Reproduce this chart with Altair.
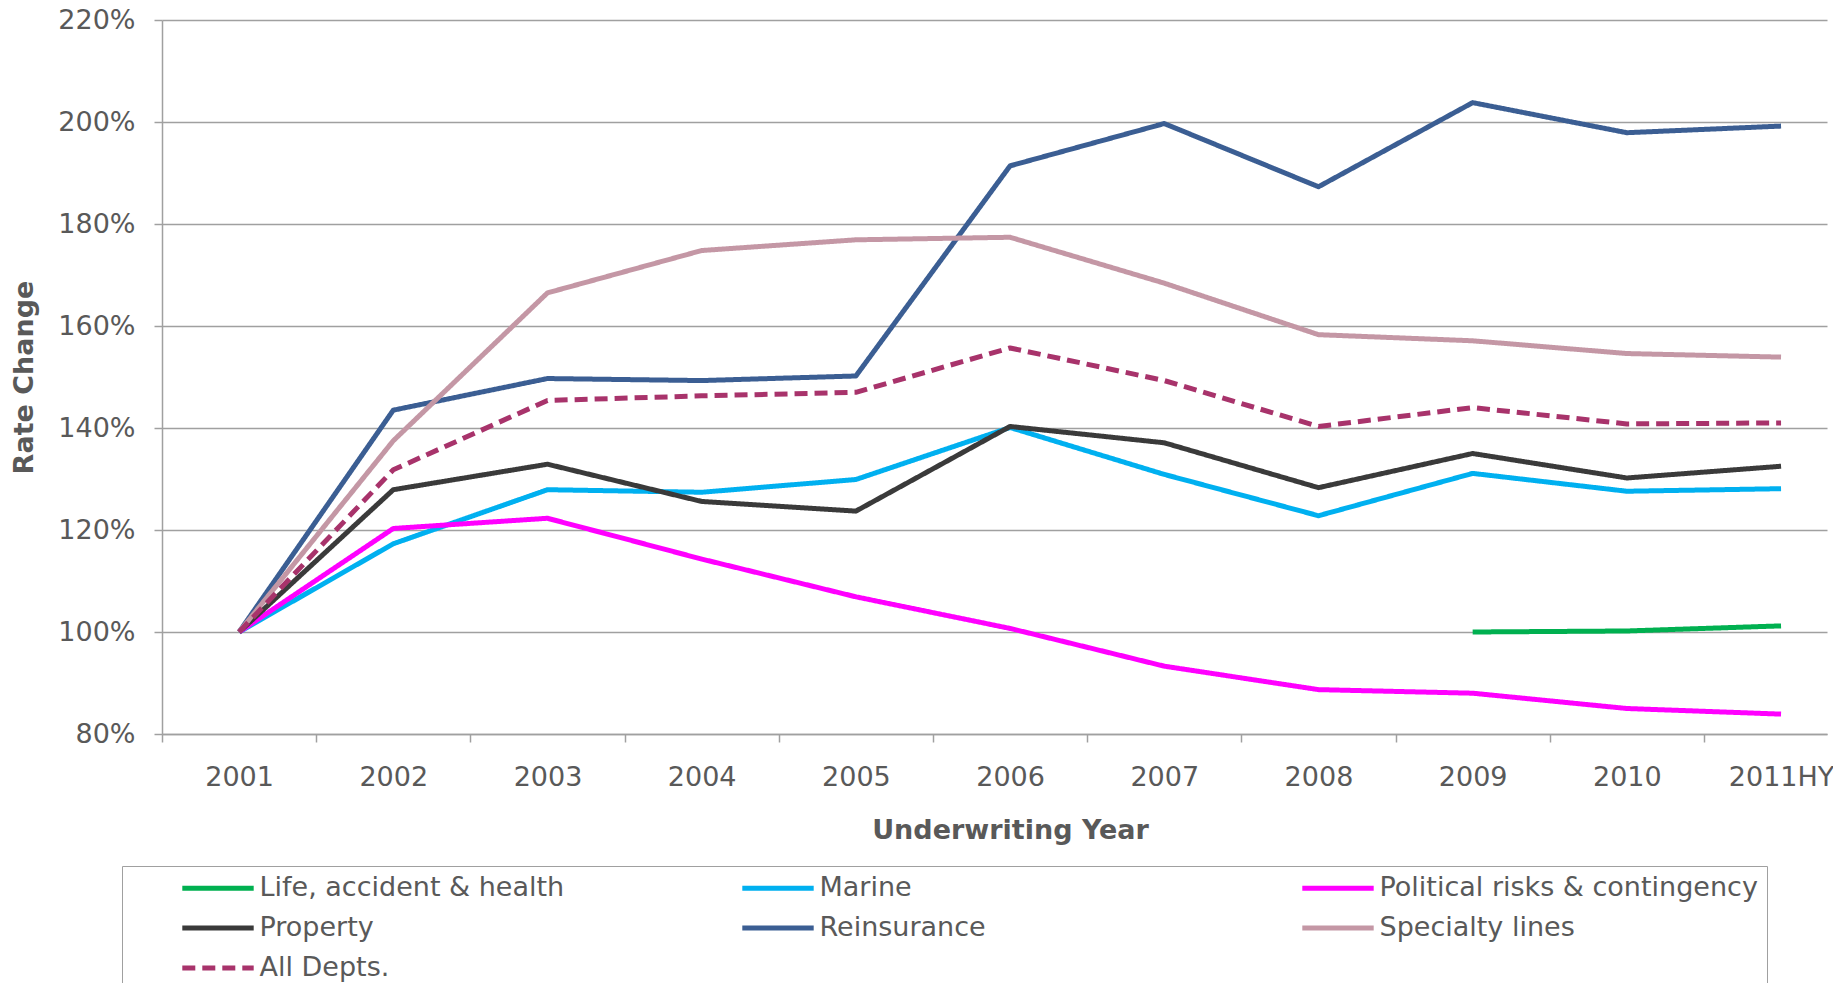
import altair as alt
import pandas as pd

years = ["2001", "2002", "2003", "2004", "2005", "2006", "2007", "2008", "2009", "2010", "2011HY"]

series_names = [
    "Life, accident & health",
    "Marine",
    "Political risks & contingency",
    "Property",
    "Reinsurance",
    "Specialty lines",
    "All Depts.",
]

life = [None, None, None, None, None, None, None, None, 100.0, 100.2, 101.2]
marine = [100.0, 117.3, 127.9, 127.4, 129.9, 140.1, 130.9, 122.8, 131.1, 127.6, 128.1]
political = [100.0, 120.3, 122.3, 114.3, 106.9, 100.7, 93.3, 88.7, 88.0, 85.0, 83.9]
property_ = [100.0, 127.9, 132.9, 125.6, 123.7, 140.3, 137.1, 128.3, 135.0, 130.2, 132.5]
reinsurance = [100.0, 143.5, 149.7, 149.3, 150.2, 191.4, 199.7, 187.3, 203.8, 197.9, 199.2]
specialty = [100.0, 137.5, 166.5, 174.8, 176.9, 177.4, 168.4, 158.3, 157.1, 154.6, 153.9]
all_depts = [100.0, 131.8, 145.4, 146.3, 147.0, 155.7, 149.3, 140.3, 144.0, 140.8, 141.0]

y_ticks = [80, 100, 120, 140, 160, 180, 200, 220]

colors = ["#00B050", "#00B0F0", "#FF00FF", "#3A3A3A", "#3B5E93", "#C497A5", "#A8336B"]
dashes = [[1, 0], [1, 0], [1, 0], [1, 0], [1, 0], [1, 0], [13, 7]]

rows = []
for name, vals in zip(series_names,
                      [life, marine, political, property_, reinsurance, specialty, all_depts]):
    for i, (yr, v) in enumerate(zip(years, vals)):
        if v is not None:
            rows.append({"series": name, "idx": i, "year": yr, "value": v})
df = pd.DataFrame(rows)

# x ticks sit between categories, labels at category centres
x_values = []
for i in range(len(years)):
    x_values.append(i - 0.5)
    x_values.append(i)
year_arr = "[" + ",".join("'" + y + "'" for y in years) + "]"
x_label_expr = "datum.value % 1 == 0 ? " + year_arr + "[datum.value] : ''"

FONT = "DejaVu Sans"
GRAY = "#595959"
LINE = "#A0A0A0"
FS = 27
LW = 5

leg = alt.Legend(
    title=" ",
    titleOrient="left",
    titlePadding=74,
    titleFontSize=FS,
    orient="none",
    direction="horizontal",
    legendX=-40,
    legendY=846,
    columns=3,
    gridAlign="all",
    columnPadding=93,
    rowPadding=12,
    symbolType="M-4.2,0H4.2",
    symbolSize=289,
    symbolStrokeWidth=LW,
    labelOffset=28,
    labelFontSize=FS,
    labelFont=FONT,
    labelColor=GRAY,
    labelLimit=700,
    padding=8.5,
    strokeColor=LINE,
)

chart = alt.Chart(df).mark_line(strokeWidth=LW, strokeJoin="round").encode(
    x=alt.X(
        "idx:Q",
        scale=alt.Scale(domain=[-0.5, 10.298], nice=False, zero=False),
        axis=alt.Axis(
            values=x_values,
            labelExpr=x_label_expr,
            title="Underwriting Year",
            titleX=848,
            labelAngle=0,
            labelFontSize=FS,
            labelFont=FONT,
            labelColor=GRAY,
            labelPadding=22,
            labelFlush=False,
            labelOverlap=False,
            labelBound=False,
            tickSize=8,
            tickColor=LINE,
            tickWidth=1.5,
            tickOpacity={"condition": {"test": "datum.value % 1 == 0", "value": 0}, "value": 1},
            domainColor=LINE,
            domainWidth=1.5,
            grid=False,
            titleFontSize=FS,
            titleFont=FONT,
            titleFontWeight="bold",
            titleColor=GRAY,
            titlePadding=27,
        ),
    ),
    y=alt.Y(
        "value:Q",
        scale=alt.Scale(domain=[80, 220], nice=False, zero=False),
        axis=alt.Axis(
            values=y_ticks,
            labelExpr="datum.value + '%'",
            title="Rate Change",
            labelFontSize=FS,
            labelFont=FONT,
            labelColor=GRAY,
            labelPadding=19,
            tickSize=8,
            tickColor=LINE,
            tickWidth=1.5,
            domainColor=LINE,
            domainWidth=1.5,
            gridColor=LINE,
            gridWidth=1.5,
            titleFontSize=FS,
            titleFont=FONT,
            titleFontWeight="bold",
            titleColor=GRAY,
            titlePadding=19,
        ),
    ),
    color=alt.Color("series:N", scale=alt.Scale(domain=series_names, range=colors), legend=leg),
    strokeDash=alt.StrokeDash("series:N", scale=alt.Scale(domain=series_names, range=dashes), legend=leg),
    detail="series:N",
).properties(
    width=1665,
    height=714,
    autosize=alt.AutoSizeParams(type="none"),
    padding={"left": 154, "top": 12, "right": 6, "bottom": 260},
).configure_view(stroke=None)

chart.save("out.html", embed_options={"renderer": "svg", "actions": False})
